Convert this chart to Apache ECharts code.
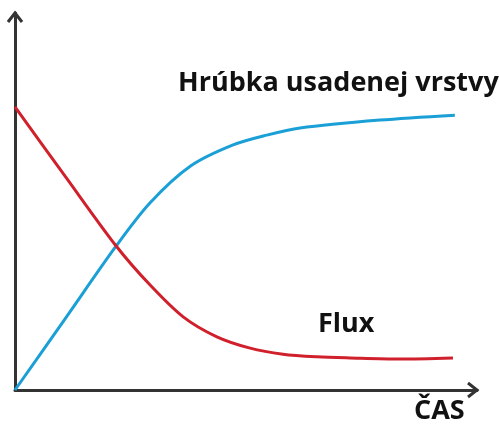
<!DOCTYPE html>
<html>
<head>
<meta charset="utf-8">
<script src="https://cdn.jsdelivr.net/npm/echarts@6/dist/echarts.min.js"></script>
<style>
html, body { margin: 0; padding: 0; background: #fff; }
#chart { width: 499px; height: 430px; }
</style>
</head>
<body>
<div id="chart"></div>
<script>
// hrúbka usadenej vrstvy (blue) - [čas, hodnota]
const hrubkaData = [
	[0, 0], [10.8, 18.8], [21.9, 38.2], [29.2, 49.6], [38.0, 59.4],
	[47.2, 65.0], [54.5, 67.6], [61.7, 69.5], [79.0, 71.6], [95.2, 72.9]
];
// flux (red)
const fluxData = [
	[0, 75.1], [10.8, 56.8], [21.9, 38.2], [29.2, 27.9], [36.4, 19.4], [43.7, 14.1],
	[50.9, 11.1], [58.0, 9.5], [65.4, 8.8], [72.5, 8.5], [83.3, 8.2], [94.8, 8.5]
];
const labels = ['Hrúbka usadenej vrstvy', 'Flux', 'ČAS'];
const axisMax = 100;

const chart = echarts.init(document.getElementById('chart'));
const hidden = { show: false };
chart.setOption({
	animation: false,
	grid: { left: 15, right: 22, top: 13, bottom: 40 },
	xAxis: {
		type: 'value', min: 0, max: axisMax,
		axisLine: { show: true, lineStyle: { color: '#333', width: 3 } },
		axisTick: hidden, axisLabel: hidden, splitLine: hidden
	},
	yAxis: {
		type: 'value', min: 0, max: axisMax,
		axisLine: { show: true, lineStyle: { color: '#333', width: 3 } },
		axisTick: hidden, axisLabel: hidden, splitLine: hidden
	},
	series: [
		{
			name: labels[0], type: 'line', data: hrubkaData, smooth: 0.3, symbol: 'none',
			lineStyle: { color: '#1a9fd6', width: 3 }
		},
		{
			name: labels[1], type: 'line', data: fluxData, smooth: 0.3, symbol: 'none',
			lineStyle: { color: '#d0202c', width: 3 }
		}
	]
});

// open arrow heads at the axis ends
const xEnd = chart.convertToPixel({ gridIndex: 0 }, [axisMax, 0]);
const yEnd = chart.convertToPixel({ gridIndex: 0 }, [0, axisMax]);
const head = { stroke: '#333', lineWidth: 3, fill: 'none', lineJoin: 'miter' };
chart.setOption({
	graphic: [
		{ type: 'polyline', shape: { points: [[xEnd[0] - 9, xEnd[1] - 7], [xEnd[0], xEnd[1]], [xEnd[0] - 9, xEnd[1] + 7]] }, style: head },
		{ type: 'polyline', shape: { points: [[yEnd[0] - 7, yEnd[1] + 9], [yEnd[0], yEnd[1]], [yEnd[0] + 7, yEnd[1] + 9]] }, style: head },
		{ type: 'text', left: 178, top: 70, style: { text: labels[0], font: 'bold 27px "Open Sans"', fill: '#111' } },
		{ type: 'text', left: 318, top: 311, style: { text: labels[1], font: 'bold 27px "Open Sans"', fill: '#111' } },
		{ type: 'text', left: 414, top: 398, style: { text: labels[2], font: 'bold 27px "Open Sans"', fill: '#111' } }
	]
});
</script>
</body>
</html>
